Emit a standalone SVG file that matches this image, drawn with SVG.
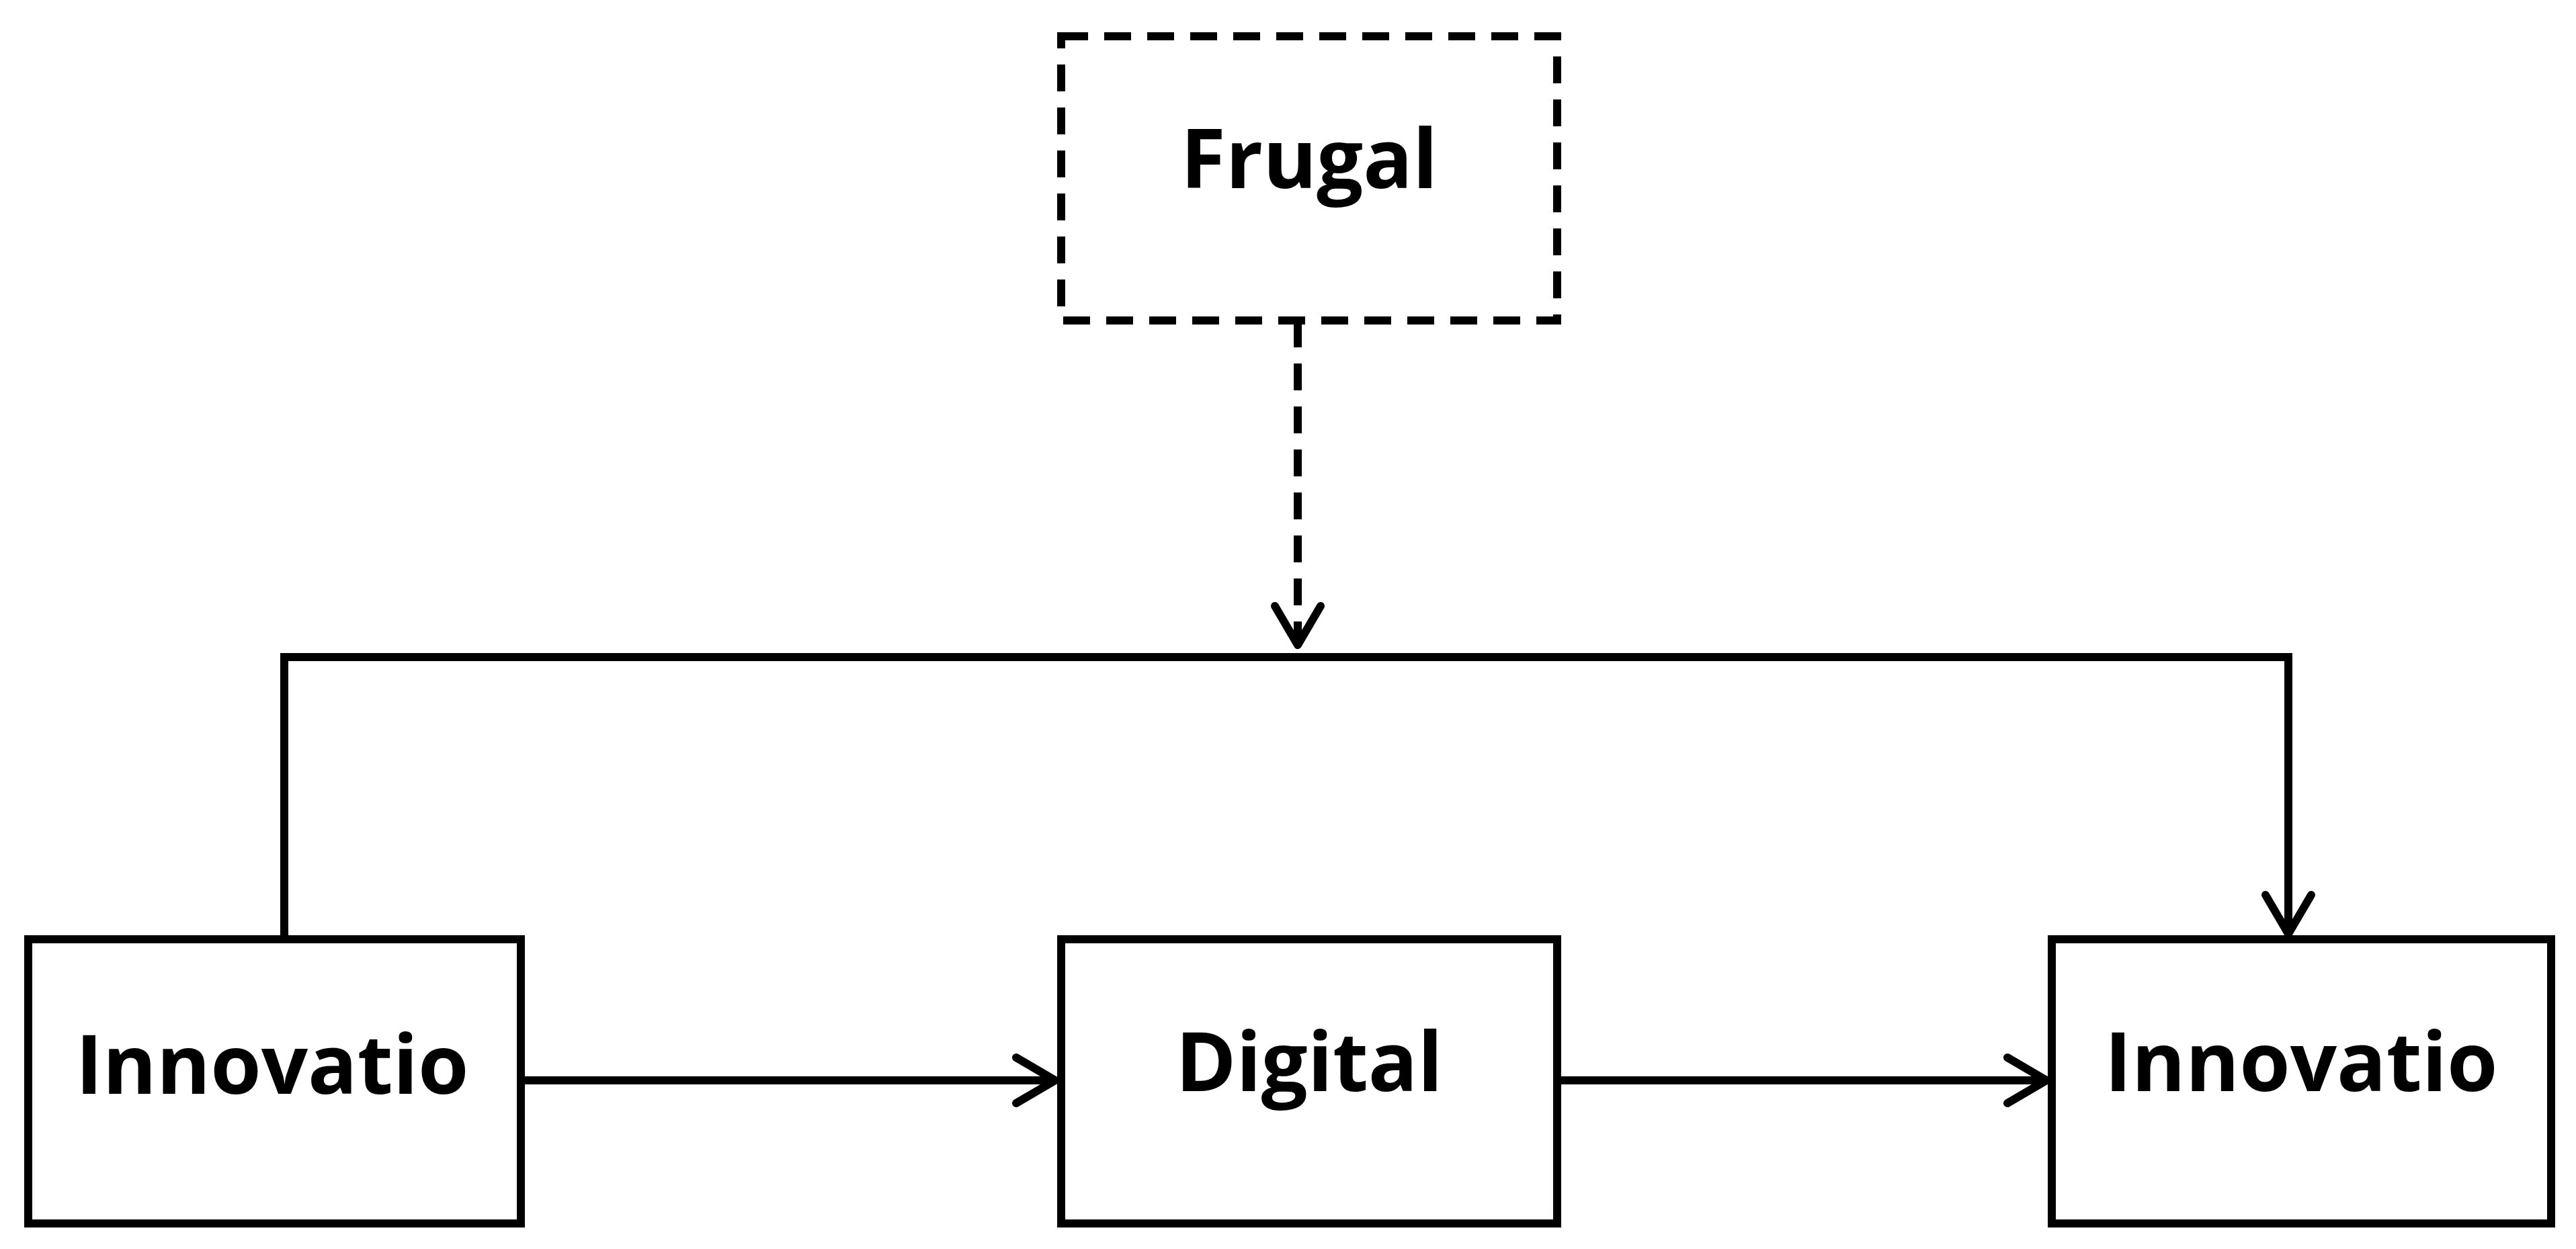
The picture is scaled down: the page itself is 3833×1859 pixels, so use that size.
<svg xmlns="http://www.w3.org/2000/svg" width="3833" height="1859" viewBox="0 0 3833 1859">
<style>
.box{fill:#fff;stroke:#000;stroke-width:12}
.dash{stroke-dasharray:40 24}
.t{font-family:"Open Sans","Liberation Sans",sans-serif;font-weight:bold;font-size:122px;text-anchor:middle;fill:#000}
.c{fill:none;stroke:#000;stroke-width:12}
</style>
<defs>
<marker id="a" markerWidth="12" markerHeight="12" refX="10" refY="6" orient="auto" markerUnits="userSpaceOnUse" viewBox="0 0 12 12" overflow="visible">
<path d="M-48,-28 L10,6 L-48,40" fill="none" stroke="#000" stroke-width="12" stroke-linecap="round" stroke-linejoin="round"/>
</marker>
</defs>
<rect width="3833" height="1859" fill="#fff"/>
<g id="connectors">
<path class="c" d="M423,1398 V978 H3405 V1390" marker-end="url(#a)"/>
<path class="c dash" d="M1931,477 V960" marker-end="url(#a)"/>
<path class="c" d="M775,1608 H1570" marker-end="url(#a)"/>
<path class="c" d="M2317,1608 H3045" marker-end="url(#a)"/>
</g>
<g id="frugal"><rect class="box dash" x="1579" y="54" width="738" height="423"/><text class="t" x="1948" y="280">Frugal</text></g>
<g id="innov1"><rect class="box" x="42" y="1398" width="733" height="423"/><text class="t" x="405" y="1628">Innovatio</text></g>
<g id="digital"><rect class="box" x="1579" y="1398" width="738" height="423"/><text class="t" x="1948" y="1624">Digital</text></g>
<g id="innov2"><rect class="box" x="3053" y="1398" width="743" height="423"/><text class="t" x="3424" y="1624">Innovatio</text></g>
</svg>
